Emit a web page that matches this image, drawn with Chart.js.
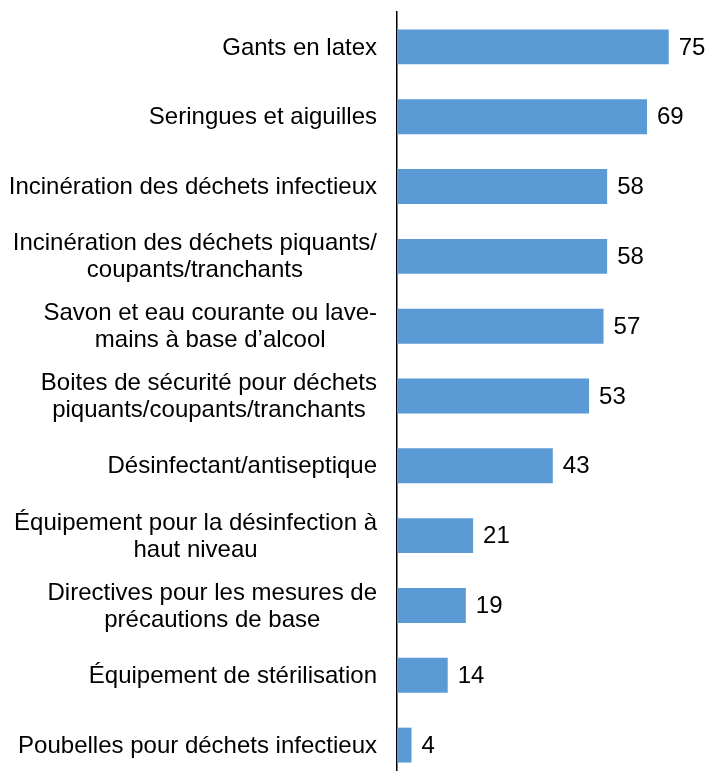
<!DOCTYPE html>
<html>
<head>
<meta charset="utf-8">
<script src="https://cdn.jsdelivr.net/npm/chart.js@4/dist/chart.umd.min.js"></script>
<style>
  html, body { margin: 0; padding: 0; background: #fff; overflow: hidden; }
  #wrap { position: relative; width: 707px; height: 780px; }
</style>
</head>
<body>
<div id="wrap"><canvas id="chart"></canvas></div>
<script>
// categories (multi-line ones as arrays of lines)
const categories = [
  'Gants en latex',
  'Seringues et aiguilles',
  'Incinération des déchets infectieux',
  ['Incinération des déchets piquants/', 'coupants/tranchants'],
  ['Savon et eau courante ou lave-', 'mains à base d’alcool'],
  ['Boites de sécurité pour déchets', 'piquants/coupants/tranchants'],
  'Désinfectant/antiseptique',
  ['Équipement pour la désinfection à', 'haut niveau'],
  ['Directives pour les mesures de', 'précautions de base'],
  'Équipement de stérilisation',
  'Poubelles pour déchets infectieux'
];
const values = [75, 69, 58, 58, 57, 53, 43, 21, 19, 14, 4];

const FONT = '24px "Liberation Sans", Arial, sans-serif';

// category labels: block right-aligned to the axis, lines centred inside the block
const catLabels = {
  id: 'catLabels',
  afterDraw(chart) {
    const ctx = chart.ctx, y = chart.scales.y;
    const right = chart.chartArea.left - 20;
    ctx.save();
    ctx.font = FONT;
    ctx.fillStyle = '#000';
    ctx.textAlign = 'center';
    ctx.textBaseline = 'middle';
    categories.forEach((lab, i) => {
      const lines = Array.isArray(lab) ? lab : [lab];
      const w = Math.max(...lines.map(l => ctx.measureText(l).width));
      const cx = right - w / 2;
      const cy = y.getPixelForValue(i) + 1;
      const lh = 27;
      lines.forEach((l, k) => {
        ctx.fillText(l, cx, cy + (k - (lines.length - 1) / 2) * lh);
      });
    });
    ctx.restore();
  }
};

// value labels at the end of each bar
const valLabels = {
  id: 'valLabels',
  afterDatasetsDraw(chart) {
    const ctx = chart.ctx;
    const meta = chart.getDatasetMeta(0);
    ctx.save();
    ctx.font = FONT;
    ctx.fillStyle = '#000';
    ctx.textAlign = 'left';
    ctx.textBaseline = 'middle';
    meta.data.forEach((bar, i) => {
      ctx.fillText(String(values[i]), bar.x + 10, bar.y + 1);
    });
    ctx.restore();
  }
};

new Chart(document.getElementById('chart'), {
  type: 'bar',
  data: {
    labels: categories,
    datasets: [{
      data: values,
      backgroundColor: '#5b9bd5',
      borderWidth: 0,
      barPercentage: 0.5,
      categoryPercentage: 1
    }]
  },
  options: {
    indexAxis: 'y',
    responsive: true, maintainAspectRatio: false,
    animation: false,
    layout: { padding: { top: 12, right: 2, bottom: 0, left: 0 } },
    plugins: { legend: { display: false }, tooltip: { enabled: false } },
    scales: {
      x: { display: false, min: 0, max: 85 },
      y: {
        grid: { display: false, drawTicks: false },
        border: { display: true, color: '#000', width: 1.5 },
        ticks: { display: false },
        afterFit(scale) { scale.width = 397; }
      }
    }
  },
  plugins: [catLabels, valLabels]
});
</script>
</body>
</html>
